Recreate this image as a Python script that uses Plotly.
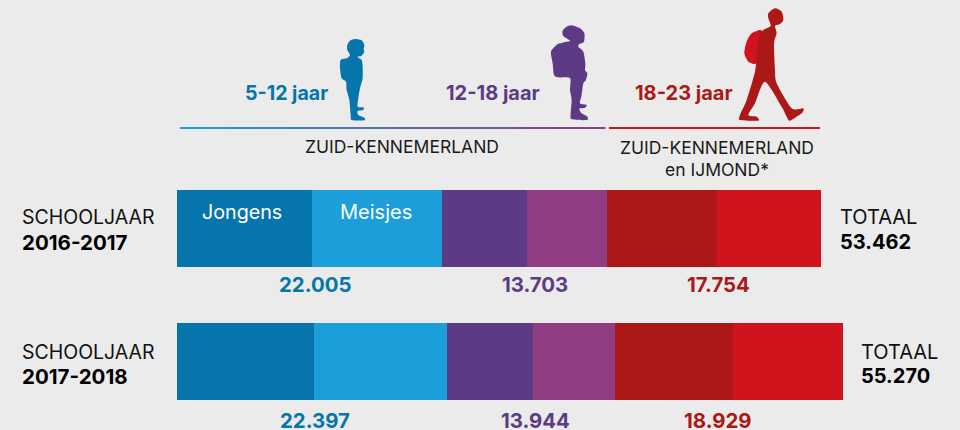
import plotly.graph_objects as go

W, H = 960, 430
years = ["2016-2017", "2017-2018"]
totals = [53462, 55270]
age_totals = {"5-12": [22005, 22397], "12-18": [13703, 13944], "18-23": [17754, 18929]}
jongens_5_12 = [11207, 11400]
meisjes_5_12 = [10798, 10997]
jongens_12_18 = [7056, 7140]
meisjes_12_18 = [6647, 6804]
jongens_18_23 = [9130, 9796]
meisjes_18_23 = [8624, 9133]

BG = "#EBEBEB"
C_BLUE_D, C_BLUE_L = "#0575AC", "#1C9EDB"
C_PUR_D, C_PUR_L = "#5D3A85", "#913D84"
C_RED_D, C_RED_L = "#AC1816", "#D1131D"
FONT = "Inter"

series = [
    ("Jongens 5-12", jongens_5_12, C_BLUE_D),
    ("Meisjes 5-12", meisjes_5_12, C_BLUE_L),
    ("Jongens 12-18", jongens_12_18, C_PUR_D),
    ("Meisjes 12-18", meisjes_12_18, C_PUR_L),
    ("Jongens 18-23", jongens_18_23, C_RED_D),
    ("Meisjes 18-23", meisjes_18_23, C_RED_L),
]

fig = go.Figure()
for name, vals, col in series:
    fig.add_trace(go.Bar(name=name, y=years, x=vals, orientation="h",
                         marker=dict(color=col, line=dict(width=0)), hoverinfo="skip"))


def px(x):
    return x / W


def py(y):
    return 1 - y / H


annotations = []


def txt(x, y, s, size, color="#111111", bold=False, anchor="left"):
    annotations.append(dict(
        x=px(x), y=py(y), xref="paper", yref="paper", text=f"<b>{s}</b>" if bold else s,
        showarrow=False, xanchor=anchor, yanchor="middle", align=anchor,
        font=dict(family=FONT, size=size, color=color),
        borderpad=0, borderwidth=0))


def fmt(n):
    return f"{n:,}".replace(",", ".")


shapes = []


def poly(points, color):
    # closed Catmull-Rom outline through the traced points
    n = len(points)
    d = f"M{px(points[0][0]):.5f},{py(points[0][1]):.5f}"
    for i in range(n):
        p0, p1, p2, p3 = points[i - 1], points[i], points[(i + 1) % n], points[(i + 2) % n]
        k = 0.12
        c1 = (p1[0] + (p2[0] - p0[0]) * k, p1[1] + (p2[1] - p0[1]) * k)
        c2 = (p2[0] - (p3[0] - p1[0]) * k, p2[1] - (p3[1] - p1[1]) * k)
        d += (f" C{px(c1[0]):.5f},{py(c1[1]):.5f} {px(c2[0]):.5f},{py(c2[1]):.5f}"
              f" {px(p2[0]):.5f},{py(p2[1]):.5f}")
    shapes.append(dict(type="path", path=d + " Z", xref="paper", yref="paper",
                       fillcolor=color, line=dict(width=0), layer="above"))


def z1(pts):
    return [(320 + a / 3, b / 3) for a, b in pts]


def z2(pts):
    return [(600 + a / 3, b / 3) for a, b in pts]


poly(z1([(105, 117), (125, 121), (133, 135), (131, 148), (133, 155), (124, 168), (112, 170), (125, 180),
         (128, 200), (128, 235), (120, 265), (115, 295), (113, 320), (130, 322), (130, 330), (113, 333),
         (115, 345), (133, 353), (133, 361), (95, 360), (92, 345), (88, 300), (80, 270), (78, 245),
         (65, 235), (60, 205), (62, 180), (80, 175), (90, 165), (82, 150), (82, 135), (90, 122)]), C_BLUE_D)
poly(z1([(755, 76), (780, 85), (793, 100), (792, 125), (778, 132), (775, 140), (790, 155), (796, 190),
         (795, 210), (802, 220), (798, 240), (790, 250), (785, 285), (780, 310), (800, 315), (795, 323),
         (778, 326), (785, 340), (802, 350), (800, 360), (755, 358), (752, 340), (755, 300), (750, 270),
         (750, 234), (715, 232), (702, 225), (698, 190), (693, 155), (712, 133), (722, 130), (735, 126),
         (750, 122), (730, 108), (728, 92), (740, 80)]), C_PUR_D)
poly(z2([(480, 90), (455, 100), (440, 125), (433, 160), (445, 185), (465, 192), (475, 180), (482, 150),
         (490, 100)]), C_RED_L)
poly(z2([(525, 25), (545, 35), (550, 60), (540, 72), (525, 78), (530, 100), (522, 130), (525, 210),
         (530, 250), (575, 325), (610, 325), (605, 340), (570, 362), (560, 350), (545, 320), (495, 245),
         (465, 310), (445, 345), (470, 350), (475, 362), (420, 360), (420, 345), (440, 300), (465, 215),
         (470, 165), (478, 110), (490, 90), (512, 78), (505, 55), (505, 40)]), C_RED_D)

# header rule: blue to purple gradient, then red
c0 = (0x1C, 0x9E, 0xDB)
c1 = (0x91, 0x3D, 0x84)
x0, x1 = 180, 605
n = 85
for i in range(n):
    t = i / (n - 1)
    c = tuple(round(c0[k] + (c1[k] - c0[k]) * t) for k in range(3))
    shapes.append(dict(type="rect", xref="paper", yref="paper",
                       x0=px(x0 + (x1 - x0) * i / n), x1=px(x0 + (x1 - x0) * (i + 1) / n + 0.5),
                       y0=py(129), y1=py(127), fillcolor=f"rgb{c}", line=dict(width=0)))
shapes.append(dict(type="rect", xref="paper", yref="paper", x0=px(609), x1=px(820), y0=py(129), y1=py(127),
                   fillcolor=C_RED_L, line=dict(width=0)))

txt(245, 93, "5-12 jaar", 19.6, C_BLUE_D, True)
txt(446, 93, "12-18 jaar", 20, C_PUR_D, True)
txt(635, 93, "18-23 jaar", 20, C_RED_D, True)
txt(402, 146, "ZUID-KENNEMERLAND", 17.5, "#1a1a1a", anchor="center")
txt(717, 147, "ZUID-KENNEMERLAND", 17.5, "#1a1a1a", anchor="center")
txt(717, 169, "en IJMOND*", 17.5, "#1a1a1a", anchor="center")
txt(242, 212, "Jongens", 19.7, "#FFFFFF", anchor="center")
txt(376, 212, "Meisjes", 20, "#FFFFFF", anchor="center")

rows = [(217, 242, 284), (352, 376, 420)]
total_x = [840, 861]
label_x = {"5-12": 315, "12-18": 535, "18-23": 718}
label_c = {"5-12": C_BLUE_D, "12-18": C_PUR_D, "18-23": C_RED_D}
for i, (y1, y2, y3) in enumerate(rows):
    txt(22, y1, "SCHOOLJAAR", 19.5)
    txt(22, y2, years[i], 20.5, "#000000", True)
    txt(total_x[i], y1, "TOTAAL", 20)
    txt(total_x[i], y2, fmt(totals[i]), 20, "#000000", True)
    for k, v in age_totals.items():
        txt(label_x[k], y3, fmt(v[i]), 20.4, label_c[k], True, "center")

# pixel scale: 0.01205 px per pupil, origin at px 177; rows 133 px apart, first centred at 228.5
scale = 0.01205
fig.update_layout(
    width=W, height=H, margin=dict(l=0, r=0, t=0, b=0, pad=0),
    paper_bgcolor=BG, plot_bgcolor=BG, showlegend=False,
    barmode="stack", bargap=1 - 77 / 133,
    xaxis=dict(visible=False, range=[-177 / scale, (W - 177) / scale], fixedrange=True),
    yaxis=dict(visible=False, type="category", categoryorder="array", categoryarray=years,
               range=[(H - 228.5) / 133, -228.5 / 133], fixedrange=True),
    annotations=annotations, shapes=shapes,
)
fig.write_html("out.html", config={"displayModeBar": False},
               post_script="document.body.style.margin='0';document.body.style.background='#EBEBEB';")
